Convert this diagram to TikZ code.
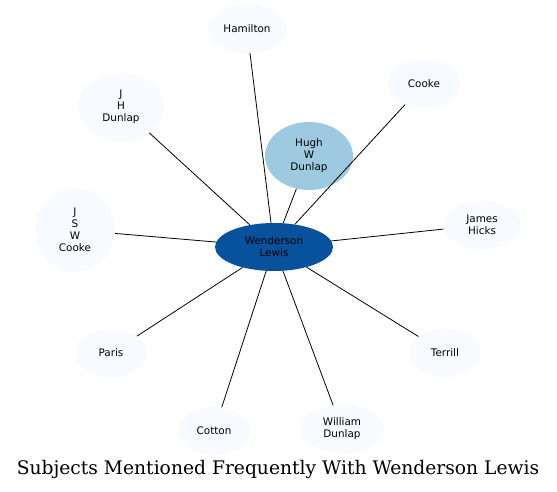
\documentclass[tikz,border=0pt]{standalone}
\usepackage{fontspec}
\setsansfont{DejaVu Sans}
\newfontfamily\titlefont{DejaVu Serif}
\usetikzlibrary{shapes.geometric}
\definecolor{pale}{HTML}{F7FBFF}
\definecolor{mid}{HTML}{9ECAE1}
\definecolor{deep}{HTML}{08519C}
\begin{document}
\begin{tikzpicture}[x=1pt, y=-1pt,
    subj/.style={ellipse, fill=pale, inner sep=0pt, align=center,
        font=\sffamily\fontsize{10.4}{12}\selectfont},
    link/.style={black, line width=0.8pt}]
    \useasboundingbox (0,0) rectangle (557,492);

    % Центр
    \node[subj, fill=deep, minimum width=118, minimum height=48] (lewis) at (274,247) {Wenderson\\Lewis};
    \node[subj, fill=mid, minimum width=88, minimum height=68] (hugh) at (309,156) {Hugh\\W\\Dunlap};

    % Остальные
    \node[subj, minimum width=80, minimum height=48] (hamilton) at (247,29) {Hamilton};
    \node[subj, minimum width=72, minimum height=48] (cooke) at (424,84) {Cooke};
    \node[subj, minimum width=86, minimum height=68] (jhd) at (121,107) {J\\H\\Dunlap};
    \node[subj, minimum width=80, minimum height=84] (jswc) at (75,230) {J\\S\\W\\Cooke};
    \node[subj, minimum width=78, minimum height=48] (hicks) at (482,225) {James\\Hicks};
    \node[subj, minimum width=72, minimum height=48] (terrill) at (445,353) {Terrill};
    \node[subj, minimum width=86, minimum height=48] (wdunlap) at (342,429) {William\\Dunlap};
    \node[subj, minimum width=72, minimum height=48] (cotton) at (214,431) {Cotton};
    \node[subj, minimum width=72, minimum height=48] (paris) at (111,353) {Paris};

    % Связи
    \foreach \n in {hugh, hamilton, cooke, jhd, jswc, hicks, terrill, wdunlap, cotton, paris}
        \draw[link] (lewis) -- (\n);

    % Подпись
    \node[font=\titlefont\fontsize{18.7}{22}\selectfont] (title) at (278,469) {Subjects Mentioned Frequently With Wenderson Lewis};
\end{tikzpicture}
\end{document}
